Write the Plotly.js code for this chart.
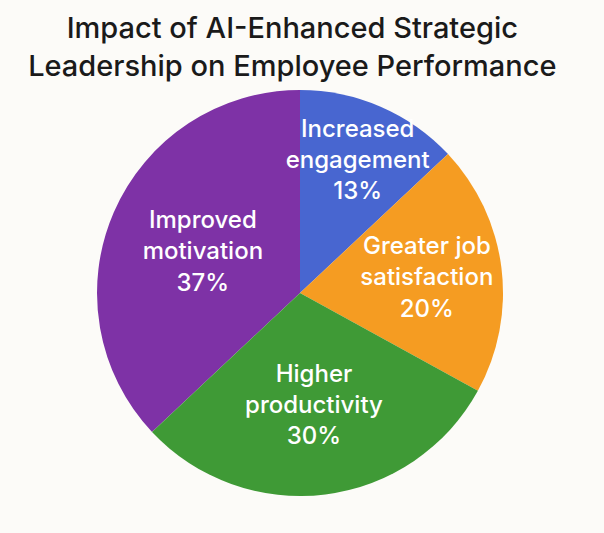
<!DOCTYPE html>
<html>
<head>
<meta charset="utf-8">
<script src="https://cdn.plot.ly/plotly-3.0.1.min.js"></script>
<style>
  html, body { margin: 0; padding: 0; background: #fcfbf8; }
  #chart { width: 604px; height: 533px; }
</style>
</head>
<body>
<div id="chart"></div>
<script>
// categories and shares as printed on the chart (purple listed first so the
// small blue slice is drawn on top and its label is not covered)
const labels = ['Improved<br>motivation', 'Increased<br>engagement', 'Greater job<br>satisfaction', 'Higher<br>productivity'];
const shares = [37, 13, 20, 30];
const colors = ['#7e32a6', '#4866d0', '#f59c22', '#3f9a36'];

// first slice (purple) ends at 12 o'clock
const startAngle = 360 - shares[0] * 3.6;

const trace = {
  type: 'pie',
  labels: labels,
  values: shares,
  text: shares.map(v => v + '%'),
  texttemplate: '%{label}<br>%{text}',
  textinfo: 'text',
  textposition: 'inside',
  insidetextorientation: 'horizontal',
  textfont: { family: 'Inter, "Noto Sans", sans-serif', size: 24, color: '#ffffff', weight: 500 },
  marker: { colors: colors, line: { width: 0 } },
  sort: false,
  direction: 'clockwise',
  rotation: startAngle,
  hoverinfo: 'none',
  domain: { x: [0.1606, 0.8328], y: [0.0694, 0.8311] }
};

const layout = {
  width: 604,
  height: 533,
  margin: { l: 0, r: 0, t: 0, b: 0 },
  paper_bgcolor: '#fcfbf8',
  showlegend: false,
  uniformtext: { minsize: 24, mode: 'show' },
  title: {
    text: 'Impact of AI-Enhanced Strategic<br>Leadership on Employee Performance',
    font: { family: 'Inter, "Noto Sans", sans-serif', size: 29, color: '#1a1a1a', weight: 500 },
    x: 0.484,
    xanchor: 'center',
    y: 0.929,
    yanchor: 'top'
  }
};

Plotly.newPlot('chart', [trace], layout, { displayModeBar: false, staticPlot: true });
</script>
</body>
</html>
